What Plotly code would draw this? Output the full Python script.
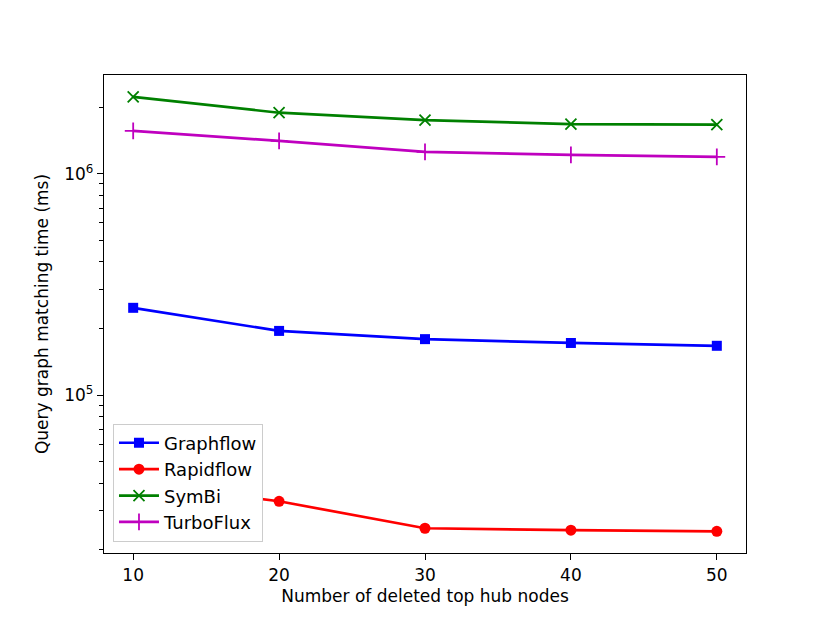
import plotly.graph_objects as go

x_nodes = [10, 20, 30, 40, 50]
graphflow = [2.48e5, 1.95e5, 1.79e5, 1.72e5, 1.67e5]
rapidflow = [4.0e4, 3.31e4, 2.50e4, 2.45e4, 2.42e4]
symbi = [2.23e6, 1.89e6, 1.75e6, 1.68e6, 1.67e6]
turboflux = [1.565e6, 1.41e6, 1.257e6, 1.219e6, 1.194e6]

y_major = [1e5, 1e6]
y_major_text = ["10<sup>5</sup>", "10<sup>6</sup>"]
y_minor = [2e4, 3e4, 4e4, 5e4, 6e4, 7e4, 8e4, 9e4,
           2e5, 3e5, 4e5, 5e5, 6e5, 7e5, 8e5, 9e5, 2e6]

FONT = "DejaVu Sans"
fig = go.Figure()

series = [
    ("Graphflow", graphflow, "#0000ff", "square", 10, 0),
    ("Rapidflow", rapidflow, "#ff0000", "circle", 11, 0),
    ("SymBi", symbi, "#008000", "x-thin", 11, 1.8),
    ("TurboFlux", turboflux, "#bf00bf", "cross-thin", 12, 1.8),
]
for name, vals, col, sym, size, lw in series:
    fig.add_trace(go.Scatter(
        x=x_nodes, y=vals, name=name, mode="lines+markers",
        line=dict(color=col, width=2.7),
        marker=dict(symbol=sym, size=size, color=col,
                    line=dict(color=col, width=lw)),
    ))

axis_common = dict(
    showline=True, linecolor="black", linewidth=1.4, mirror=True,
    ticks="outside", ticklen=6, tickwidth=1.4, tickcolor="black",
    showgrid=False, zeroline=False,
    tickfont=dict(family=FONT, size=17, color="black"),
)

fig.update_layout(
    width=830, height=622,
    paper_bgcolor="white", plot_bgcolor="white",
    margin=dict(l=96, r=92, t=67, b=77),
    font=dict(family=FONT, size=17, color="black"),
    showlegend=True,
    legend=dict(
        x=0.014, y=0.024, xanchor="left", yanchor="bottom",
        bgcolor="rgba(255,255,255,1)", bordercolor="#cccccc", borderwidth=1,
        font=dict(family=FONT, size=18, color="black"),
        itemwidth=40, tracegroupgap=0,
    ),
    xaxis=dict(
        **axis_common,
        range=[8, 52],
        tickvals=x_nodes,
        title=dict(text="Number of deleted top hub nodes",
                   font=dict(family=FONT, size=17), standoff=6),
    ),
    yaxis=dict(
        **axis_common,
        type="log",
        range=[4.286, 6.447],
        tickvals=y_major, ticktext=y_major_text,
        minor=dict(tickvals=y_minor, ticks="outside", ticklen=3.5,
                   tickwidth=1.1, tickcolor="black"),
        title=dict(text="Query graph matching time (ms)",
                   font=dict(family=FONT, size=17), standoff=11),
    ),
)

fig.write_html("out.html")
